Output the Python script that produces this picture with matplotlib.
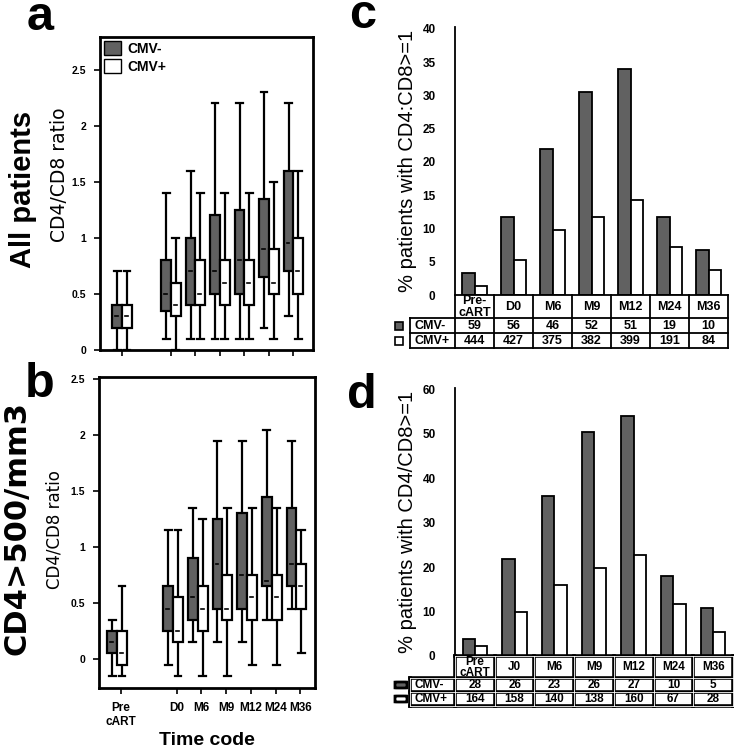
import matplotlib
matplotlib.use("Agg")
import matplotlib.pyplot as plt
from matplotlib.patches import Rectangle, FancyBboxPatch

plt.rcParams['font.family'] = ['Liberation Sans', 'DejaVu Sans']

W, H = 734, 751
fig = plt.figure(figsize=(W / 100, H / 100), dpi=100)

def add_ax(l, t, r, b):
    return fig.add_axes([l / W, 1 - b / H, (r - l) / W, (b - t) / H])

# ---------------- data ----------------
time_codes = ["Pre\ncART", "D0", "M6", "M9", "M12", "M24", "M36"]

# panel a: all patients (whislo, q1, med, q3, whishi)
a_neg_lo  = [0.00, 0.10, 0.10, 0.10, 0.10, 0.20, 0.30]
a_neg_q1  = [0.20, 0.35, 0.40, 0.50, 0.50, 0.65, 0.70]
a_neg_med = [0.30, 0.50, 0.70, 0.70, 0.80, 0.90, 0.95]
a_neg_q3  = [0.40, 0.80, 1.00, 1.20, 1.25, 1.35, 1.60]
a_neg_hi  = [0.70, 1.40, 1.60, 2.20, 2.20, 2.30, 2.20]

a_pos_lo  = [0.00, 0.00, 0.10, 0.10, 0.10, 0.10, 0.10]
a_pos_q1  = [0.20, 0.30, 0.40, 0.40, 0.40, 0.50, 0.50]
a_pos_med = [0.30, 0.40, 0.50, 0.60, 0.60, 0.60, 0.70]
a_pos_q3  = [0.40, 0.60, 0.80, 0.80, 0.80, 0.90, 1.00]
a_pos_hi  = [0.70, 1.00, 1.40, 1.40, 1.40, 1.50, 1.60]

# panel b: CD4>500/mm3
b_neg_lo  = [-0.15, -0.05, 0.15, 0.15, 0.15, 0.35, 0.45]
b_neg_q1  = [0.05, 0.25, 0.35, 0.45, 0.45, 0.65, 0.65]
b_neg_med = [0.15, 0.45, 0.55, 0.85, 0.75, 0.70, 0.85]
b_neg_q3  = [0.25, 0.65, 0.90, 1.25, 1.30, 1.45, 1.35]
b_neg_hi  = [0.35, 1.15, 1.35, 1.95, 1.95, 2.05, 1.95]

b_pos_lo  = [-0.15, -0.15, -0.15, -0.15, -0.05, -0.05, 0.05]
b_pos_q1  = [-0.05, 0.15, 0.25, 0.35, 0.35, 0.35, 0.45]
b_pos_med = [0.05, 0.25, 0.45, 0.45, 0.55, 0.55, 0.65]
b_pos_q3  = [0.25, 0.55, 0.65, 0.75, 0.75, 0.75, 0.85]
b_pos_hi  = [0.65, 1.15, 1.25, 1.35, 1.35, 1.35, 1.15]

# panel c: % patients with CD4:CD8>=1 (all patients)
c_labels = ["Pre-\ncART", "D0", "M6", "M9", "M12", "M24", "M36"]
c_neg = [3.3, 11.8, 22.0, 30.6, 34.0, 11.8, 6.8]
c_pos = [1.3, 5.3, 9.7, 11.8, 14.3, 7.2, 3.8]
c_n_neg = [59, 56, 46, 52, 51, 19, 10]
c_n_pos = [444, 427, 375, 382, 399, 191, 84]

# panel d: % patients with CD4/CD8>=1 (CD4>500)
d_labels = ["Pre\ncART", "J0", "M6", "M9", "M12", "M24", "M36"]
d_neg = [3.8, 21.8, 36.0, 50.5, 54.1, 18.1, 10.8]
d_pos = [2.3, 10.0, 16.0, 19.7, 22.7, 11.6, 5.5]
d_n_neg = [28, 26, 23, 26, 27, 10, 5]
d_n_pos = [164, 158, 140, 138, 160, 67, 28]

group_names = ["CMV-", "CMV+"]

DARK = "#616161"
WHITE = "white"

# ---------------- box panels ----------------
def box_panel(ax, pos, neg, posv, ylim, xlim, yticks, ytl, tickpos, ylfs, lx, ly):
    ax.set_xlim(*xlim)
    ax.set_ylim(*ylim)
    for i, p in enumerate(pos):
        for (stats, off, fc) in ((neg, -0.2, DARK), (posv, 0.2, WHITE)):
            lo, q1, med, q3, hi = (s[i] for s in stats)
            x = p + off
            ax.plot([x, x], [lo, hi], color="black", lw=1.6, zorder=1,
                    solid_capstyle="butt")
            ax.plot([x - 0.14, x + 0.14], [hi, hi], color="black", lw=1.6, zorder=1)
            ax.plot([x - 0.14, x + 0.14], [lo, lo], color="black", lw=1.6, zorder=1)
            ax.add_patch(Rectangle((x - 0.2, q1), 0.4, q3 - q1, facecolor=fc,
                                   edgecolor="black", lw=1.6, zorder=2))
            ax.plot([x - 0.08, x + 0.04], [med, med], color="black", lw=1.2, zorder=3)
    for s in ax.spines.values():
        s.set_linewidth(2.0)
    ax.set_yticks(yticks)
    ax.set_yticklabels(ytl, fontsize=7.5, fontweight="bold")
    ax.set_xticks(tickpos)
    ax.tick_params(axis="both", direction="out", length=4, width=1.2, pad=6)
    ax.set_ylabel("CD4/CD8 ratio", fontsize=ylfs, family="DejaVu Sans")
    ax.yaxis.set_label_coords(lx, ly)

posA = [0, 2, 3, 4, 5, 6, 7]
axA = add_ax(100, 37, 313, 350)
box_panel(axA, posA,
          (a_neg_lo, a_neg_q1, a_neg_med, a_neg_q3, a_neg_hi),
          (a_pos_lo, a_pos_q1, a_pos_med, a_pos_q3, a_pos_hi),
          (0, 2.79), (-0.9, 7.8), [0, 0.5, 1, 1.5, 2, 2.5],
          ["0", "0.5", "1", "1.5", "2", "2.5"], posA, 13.5, -0.145, 0.56)
axA.set_xticklabels([])
lh = [Rectangle((0, 0), 1, 1, facecolor=DARK, edgecolor="black", lw=1.0),
      Rectangle((0, 0), 1, 1, facecolor=WHITE, edgecolor="black", lw=1.0)]
axA.legend(lh, group_names, loc="upper left", frameon=False,
           prop={"weight": "bold", "size": 10}, handlelength=1.2,
           handleheight=1.2, handletextpad=0.5, borderaxespad=0.1,
           borderpad=0.2, labelspacing=0.2)

posB = [-0.27, 2, 3, 4, 5, 6, 7]
axB = add_ax(99, 377, 315, 688)
box_panel(axB, posB,
          (b_neg_lo, b_neg_q1, b_neg_med, b_neg_q3, b_neg_hi),
          (b_pos_lo, b_pos_q1, b_pos_med, b_pos_q3, b_pos_hi),
          (-0.26, 2.52), (-1.0, 7.75), [0, 0.5, 1, 1.5, 2, 2.5],
          ["0", "0.5", "1", "1.5", "2", "2.5"], [p + 0.15 for p in posB],
          12, -0.165, 0.51)
axB.set_xticklabels(time_codes, fontsize=8.5, fontweight="bold")
axB.set_xlabel("Time code", fontsize=14, fontweight="bold", labelpad=3)

# ---------------- bar panels with tables ----------------
def bar_panel(l, t, r, b, ymax, yticks, neg, pos, ylabel, labels, nneg, npos,
              rows_px, double, fs):
    ax = add_ax(l, t, r, b)
    n = len(neg)
    xs = list(range(n))
    ax.bar([x + 0.345 for x in xs], neg, width=0.31, color=DARK,
           edgecolor="black", lw=1.3)
    ax.bar([x + 0.655 for x in xs], pos, width=0.31, color=WHITE,
           edgecolor="black", lw=1.3)
    ax.set_xlim(0, n)
    ax.set_ylim(0, ymax)
    for k in ("top", "right", "bottom"):
        ax.spines[k].set_visible(False)
    ax.spines["left"].set_linewidth(1.3)
    ax.set_xticks([])
    ax.set_yticks(yticks)
    ax.set_yticklabels([str(v) for v in yticks], fontsize=8.5, fontweight="bold")
    ax.tick_params(axis="y", length=0, pad=14)
    ax.set_ylabel(ylabel, fontsize=14.5, labelpad=4)

    # table axes, same horizontal scale as the bars
    colw = (r - l) / n
    tl = 390
    h0, h1, h2 = rows_px
    tb = b + h0 + h1 + h2
    tax = add_ax(tl, b, r, tb)
    x0 = -(l - tl) / colw
    tax.set_xlim(x0, n)
    tax.set_ylim(tb - b, 0)
    tax.axis("off")
    lab_left = -(l - 410) / colw
    lw_main = 2.6 if double else 1.3

    def hline(y, xa, xb):
        tax.plot([xa, xb], [y, y], color="black", lw=lw_main, clip_on=False,
                 solid_capstyle="projecting")

    def vline(x, ya, yb):
        tax.plot([x, x], [ya, yb], color="black", lw=lw_main,
                 clip_on=False, solid_capstyle="projecting")

    yA, yB, yC, yD = 0, h0, h0 + h1, h0 + h1 + h2
    hline(yA, 0, n)
    for y in (yB, yC, yD):
        hline(y, lab_left, n)
    for x in range(n + 1):
        vline(x, yA, yD)
    vline(lab_left, yB, yD)
    if double:
        # white inner lines give a double-rule look
        for y in (yA, yB, yC, yD):
            xa = 0 if y == yA else lab_left
            tax.plot([xa, n], [y, y], color="white", lw=0.6, clip_on=False)
        for x in range(n + 1):
            tax.plot([x, x], [yA, yD], color="white", lw=0.6, clip_on=False)
        tax.plot([lab_left, lab_left], [yB, yD], color="white", lw=0.6,
                 clip_on=False)

    for i in range(n):
        tax.text(i + 0.5, (yA + yB) / 2 + 0.5, labels[i], ha="center",
                 va="center", fontsize=fs, fontweight="bold", linespacing=0.9)
        tax.text(i + 0.5, (yB + yC) / 2 + 0.5, str(nneg[i]), ha="center",
                 va="center", fontsize=fs, fontweight="bold")
        tax.text(i + 0.5, (yC + yD) / 2 + 0.5, str(npos[i]), ha="center",
                 va="center", fontsize=fs, fontweight="bold")
    tax.text(lab_left + 0.12, (yB + yC) / 2 + 0.5, group_names[0], ha="left",
             va="center", fontsize=fs, fontweight="bold")
    tax.text(lab_left + 0.12, (yC + yD) / 2 + 0.5, group_names[1], ha="left",
             va="center", fontsize=fs, fontweight="bold")
    # legend keys
    kx = x0 + 5 / colw
    kw = (12 if double else 8) / colw
    for (ya, yb), fc in (((yB, yC), DARK), ((yC, yD), WHITE)):
        kh = 6 if double else 8
        yc = (ya + yb) / 2
        if double:
            tax.add_patch(FancyBboxPatch((kx, yc - kh / 2), kw, kh,
                                         boxstyle="round,pad=0,rounding_size=0.1",
                                         facecolor=fc, edgecolor="black", lw=2.0,
                                         clip_on=False))
        else:
            tax.add_patch(Rectangle((kx, yc - kh / 2), kw, kh, facecolor=fc,
                                    edgecolor="black", lw=1.2, clip_on=False))
    return ax

bar_panel(455, 27, 728, 295, 40.3, [0, 5, 10, 15, 20, 25, 30, 35, 40],
          c_neg, c_pos, "% patients with CD4:CD8>=1", c_labels,
          c_n_neg, c_n_pos, (23, 15, 15), False, 9)
bar_panel(455, 388, 733, 656, 60.3, [0, 10, 20, 30, 40, 50, 60],
          d_neg, d_pos, "% patients with CD4/CD8>=1", d_labels,
          d_n_neg, d_n_pos, (22, 14, 14), True, 8.5)

# ---------------- panel letters and row labels ----------------
for letter, x, y in (("a", 40, 30), ("b", 40, 397), ("c", 363, 28), ("d", 362, 408)):
    fig.text(x / W, 1 - y / H, letter, fontsize=35, fontweight="bold",
             ha="center", va="baseline")
fig.text(23 / W, 1 - 189 / H, "All patients", rotation=90, fontsize=21,
         fontweight="bold", ha="center", va="center")
fig.text(17 / W, 1 - 528 / H, "CD4>500/mm3", rotation=90, fontsize=22,
         fontweight="bold", family="DejaVu Sans", ha="center", va="center")

fig.savefig("out.png", dpi=100)
